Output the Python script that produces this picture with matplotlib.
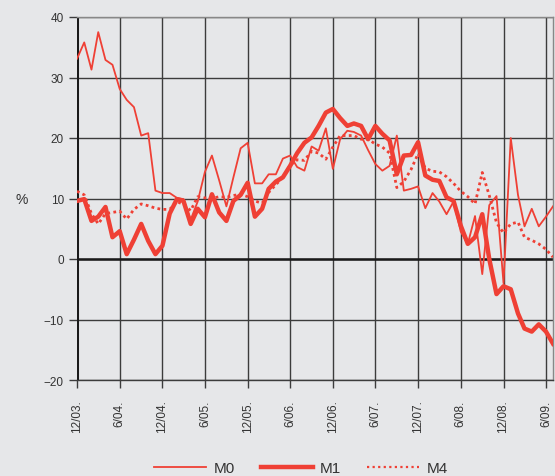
import numpy as np
import pandas as pd
import matplotlib
matplotlib.use("Agg")
import matplotlib.pyplot as plt
from matplotlib.lines import Line2D

# monthly growth rates, Dec 2003 .. Jul 2009
months = pd.date_range("2003-12-01", periods=68, freq="MS")

m0 = [33.1, 35.8, 31.3, 37.5, 32.9, 32.1, 28.1, 26.3, 25.1, 20.4,
      20.8, 11.3, 10.9, 10.9, 10.1, 9.9, 6.5, 9.5, 14.4, 17.1,
      13.0, 8.7, 13.5, 18.3, 19.2, 12.5, 12.5, 14.0, 14.0, 16.6,
      17.1, 15.2, 14.6, 18.6, 17.9, 21.6, 14.9, 19.8, 21.2, 21.0,
      20.4, 18.0, 15.7, 14.6, 15.4, 20.4, 11.3, 11.6, 12.0, 8.4,
      10.9, 9.5, 7.4, 9.5, 4.5, 2.5, 7.1, -2.5, 8.9, 10.4,
      -4.0, 20.0, 10.6, 5.4, 8.3, 5.4, 7.0, 8.7]

m1 = [9.6, 9.9, 6.3, 7.0, 8.6, 3.6, 4.6, 0.8, 3.2, 5.8,
      3.0, 0.8, 2.2, 7.5, 9.9, 9.6, 5.8, 8.3, 6.9, 10.7,
      7.7, 6.3, 9.6, 10.6, 12.6, 7.0, 8.3, 11.6, 12.8, 13.5,
      15.4, 17.5, 19.2, 20.1, 22.0, 24.2, 24.8, 23.3, 22.0, 22.4,
      22.0, 19.8, 22.0, 20.7, 19.6, 14.0, 17.1, 17.2, 19.3, 13.8,
      13.1, 12.9, 10.2, 9.6, 5.5, 2.5, 3.6, 7.4, 0.0, -5.8,
      -4.5, -5.0, -9.0, -11.5, -12.0, -10.8, -12.0, -14.0]

m4 = [11.2, 10.6, 7.5, 5.8, 7.5, 7.7, 7.9, 6.6, 8.2, 9.1,
      8.8, 8.4, 8.2, 8.2, 9.5, 9.0, 8.0, 10.3, 10.1, 10.0,
      10.3, 10.2, 10.5, 10.7, 10.3, 9.6, 9.2, 11.0, 12.3, 13.5,
      15.5, 16.4, 16.3, 17.8, 17.5, 16.5, 18.5, 20.4, 20.4, 20.4,
      19.8, 19.8, 19.0, 18.5, 17.5, 11.8, 12.8, 14.8, 17.4, 15.0,
      14.5, 14.4, 13.6, 12.5, 11.2, 10.3, 9.1, 14.3, 10.5, 6.0,
      4.3, 5.8, 6.1, 3.6, 3.1, 2.5, 1.6, 0.3]

tick_dates = pd.date_range("2003-12-01", "2009-06-01", freq="6MS")
tick_labels = [f"{d.month}/{d.strftime('%y')}." for d in tick_dates]

bg = "#e6e7e9"
red = "#ef4035"
grid_col = "#3c3c3c"

plt.rcParams["font.family"] = ["Liberation Sans", "DejaVu Sans"]

fig = plt.figure(figsize=(5.55, 4.77), dpi=100, facecolor=bg)
ax = fig.add_axes([77 / 555, 1 - 381 / 477, 476 / 555, 363 / 477])
ax.set_facecolor(bg)

ax.plot(months, m0, color=red, lw=1.3, label="M0", zorder=3)
ax.plot(months, m1, color=red, lw=3.2, label="M1", zorder=4)
ax.plot(months, m4, color=red, lw=2.0, ls=(0, (1, 1.2)), label="M4", zorder=3)

ax.set_ylim(-20, 40)
ax.set_yticks(range(-20, 41, 10))
ax.set_xlim(months[0], months[-1])
ax.set_xticks(tick_dates)
ax.set_xticklabels(tick_labels, rotation=90)

ax.grid(True, color=grid_col, lw=1.0, zorder=1)
ax.set_axisbelow(True)
ax.axhline(0, color="#1a1a1a", lw=1.8, zorder=2)
ax.axvline(months[0], color="#1a1a1a", lw=2.2, zorder=2)

for side in ["top", "right"]:
    ax.spines[side].set_color("#888888")
    ax.spines[side].set_linewidth(1.0)
ax.spines["left"].set_visible(False)
ax.spines["bottom"].set_color(grid_col)
ax.spines["bottom"].set_linewidth(1.0)

ax.tick_params(axis="both", length=6, width=1.0, color=grid_col,
               labelsize=8.5, labelcolor="#333333")
ax.tick_params(axis="x", pad=8)

fig.text(15 / 555, 1 - 200 / 477, "%", fontsize=10, color="#333333",
         ha="left", va="center")

handles = [
    Line2D([], [], color=red, lw=1.3),
    Line2D([], [], color=red, lw=3.2),
    Line2D([], [], color=red, lw=1.6, ls=(0, (1, 1.5))),
]
fig.legend(handles, ["M0", "M1", "M4"], loc="center",
           bbox_to_anchor=(301 / 555, 1 - 469 / 477), ncol=3, frameon=False,
           fontsize=11, handlelength=3.4, handletextpad=0.5,
           columnspacing=1.7, labelcolor="#333333",
           borderpad=0, borderaxespad=0)

fig.savefig("out.png", dpi=100, facecolor=bg)
